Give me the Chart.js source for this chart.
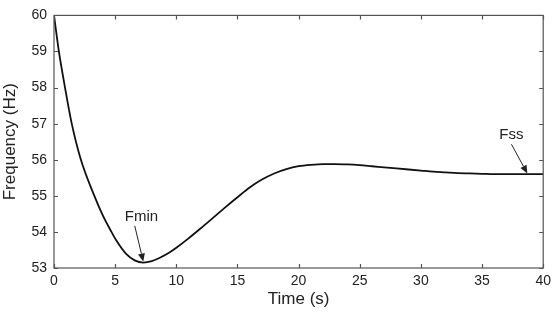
<!DOCTYPE html>
<html>
<head>
<meta charset="utf-8">
<script src="https://cdn.jsdelivr.net/npm/chart.js@4.4.1/dist/chart.umd.min.js"></script>
<style>
  html, body { margin: 0; padding: 0; background: #fff; }
  #wrap { width: 556px; height: 315px; }
</style>
</head>
<body>
<div id="wrap"><canvas id="freqChart" width="556" height="315"></canvas></div>
<script>
// values
const timeSec = [0, 0.4, 0.9, 1.45, 2.2, 3.3, 4.0, 4.7, 5.1, 5.9, 6.6, 7.3, 8.0, 8.7, 9.4, 10, 11, 12, 13, 14, 15, 16, 17, 18, 19, 20, 21, 22, 23, 24, 25, 26, 27, 28, 29, 30, 31, 32, 33, 34, 35, 36, 37, 38, 39, 40];
const freqHz = [60, 59, 58, 57, 56, 55, 54.45, 54, 53.76, 53.39, 53.21, 53.15, 53.19, 53.29, 53.42, 53.56, 53.82, 54.1, 54.39, 54.68, 54.96, 55.23, 55.45, 55.62, 55.74, 55.82, 55.86, 55.88, 55.88, 55.87, 55.85, 55.82, 55.79, 55.76, 55.73, 55.7, 55.67, 55.65, 55.63, 55.62, 55.61, 55.6, 55.6, 55.6, 55.6, 55.6];
const xTicks = [0, 5, 10, 15, 20, 25, 30, 35, 40];
const yTicks = [53, 54, 55, 56, 57, 58, 59, 60];

// annotations: label position, arrow tail, arrow head (data coords)
const notes = [
  { text: 'Fmin', at: [7.15, 54.42], from: [6.6, 54.17], to: [7.3, 53.18] },
  { text: 'Fss', at: [37.4, 56.69], from: [37.4, 56.43], to: [38.7, 55.62] }
];

const FONT = '"Liberation Sans", Arial, Helvetica, sans-serif';
const AXIS_COLOR = '#555';

const boxTicks = {
  id: 'boxTicks',
  afterDraw(chart) {
    const { ctx, chartArea: a, scales } = chart;
    const x = scales.x, y = scales.y;
    ctx.save();
    ctx.strokeStyle = AXIS_COLOR;
    ctx.lineWidth = 1.2;
    ctx.strokeRect(a.left, a.top, a.right - a.left, a.bottom - a.top);
    const len = 4;
    ctx.beginPath();
    xTicks.forEach(v => {
      const px = Math.round(x.getPixelForValue(v)) + 0.5;
      ctx.moveTo(px, a.bottom); ctx.lineTo(px, a.bottom - len);
      ctx.moveTo(px, a.top); ctx.lineTo(px, a.top + len);
    });
    yTicks.forEach(v => {
      const py = Math.round(y.getPixelForValue(v)) + 0.5;
      ctx.moveTo(a.left, py); ctx.lineTo(a.left + len, py);
      ctx.moveTo(a.right, py); ctx.lineTo(a.right - len, py);
    });
    ctx.stroke();

    // annotations
    ctx.fillStyle = '#222';
    ctx.strokeStyle = '#222';
    ctx.font = '15px ' + FONT;
    ctx.textAlign = 'center';
    ctx.textBaseline = 'middle';
    notes.forEach(n => {
      ctx.fillText(n.text, x.getPixelForValue(n.at[0]), y.getPixelForValue(n.at[1]));
      const x0 = x.getPixelForValue(n.from[0]), y0 = y.getPixelForValue(n.from[1]);
      const x1 = x.getPixelForValue(n.to[0]), y1 = y.getPixelForValue(n.to[1]);
      const ang = Math.atan2(y1 - y0, x1 - x0);
      const hl = 8, hw = 3.5;
      const bx = x1 - hl * Math.cos(ang), by = y1 - hl * Math.sin(ang);
      ctx.lineWidth = 1;
      ctx.beginPath();
      ctx.moveTo(x0, y0); ctx.lineTo(bx, by);
      ctx.stroke();
      ctx.beginPath();
      ctx.moveTo(x1, y1);
      ctx.lineTo(bx + hw * Math.sin(ang), by - hw * Math.cos(ang));
      ctx.lineTo(bx - hw * Math.sin(ang), by + hw * Math.cos(ang));
      ctx.closePath();
      ctx.fill();
    });
    ctx.restore();
  }
};

const ctx = document.getElementById('freqChart');
new Chart(ctx, {
  type: 'line',
  data: {
    datasets: [{
      data: timeSec.map((t, i) => ({ x: t, y: freqHz[i] })),
      borderColor: '#111',
      borderWidth: 1.8,
      pointRadius: 0,
      fill: false,
      cubicInterpolationMode: 'monotone'
    }]
  },
  options: {
    responsive: false,
    animation: false,
    layout: { padding: { top: 10, right: 9, left: 0, bottom: 0 } },
    plugins: { legend: { display: false }, tooltip: { enabled: false } },
    scales: {
      x: {
        type: 'linear',
        min: 0, max: 40,
        afterFit(s) { s.height = 47; },
        afterBuildTicks(s) { s.ticks = xTicks.map(v => ({ value: v })); },
        grid: { display: false, drawTicks: false },
        border: { display: false },
        ticks: { padding: 5, color: '#222', font: { family: FONT, size: 14 }, maxRotation: 0 },
        title: { display: true, text: 'Time (s)', color: '#222', font: { family: FONT, size: 17 }, padding: { top: 0, bottom: 5 } }
      },
      y: {
        min: 53, max: 60,
        afterFit(s) { s.width = 54; },
        afterBuildTicks(s) { s.ticks = yTicks.map(v => ({ value: v })); },
        grid: { display: false, drawTicks: false },
        border: { display: false },
        ticks: { padding: 7, color: '#222', font: { family: FONT, size: 14 } },
        title: { display: true, text: 'Frequency (Hz)', color: '#222', font: { family: FONT, size: 17 }, padding: { top: 0, bottom: 0 } }
      }
    }
  },
  plugins: [boxTicks]
});
</script>
</body>
</html>
